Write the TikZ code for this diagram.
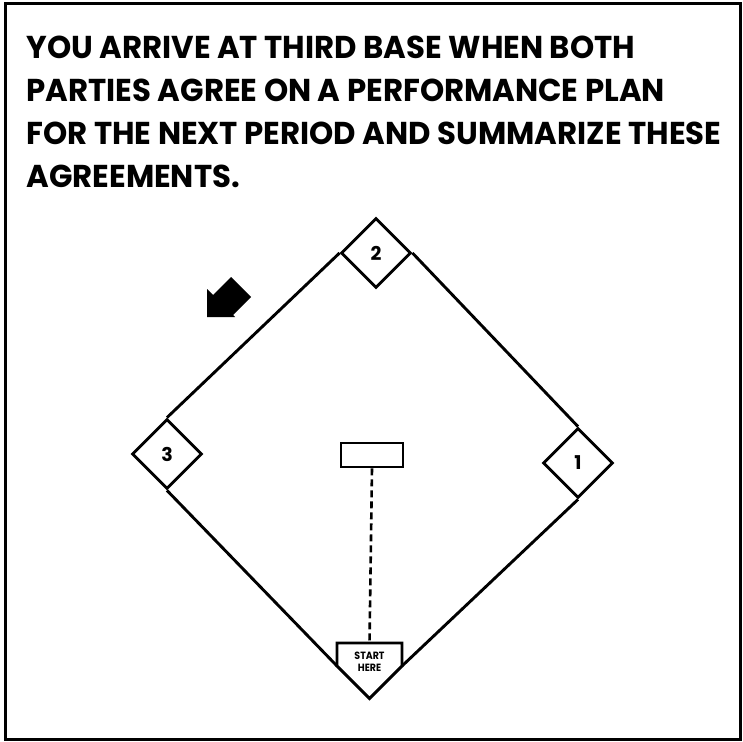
\documentclass[tikz,border=0pt]{standalone}
\usepackage{fontspec}
\setmainfont{Poppins}
\usetikzlibrary{shapes.geometric}

\begin{document}
\begin{tikzpicture}
    [x=1pt, y=-1pt,
    line width=2.9pt,
    headline/.style={inner sep=0pt, align=left, xscale=0.975, font=\fontsize{31.6}{43}\selectfont\bfseries},
    base/.style={draw, diamond, aspect=1, minimum width=70pt, minimum height=70pt, inner sep=0pt, font=\fontsize{19}{19}\selectfont\bfseries},
    rubber/.style={draw, rectangle, minimum width=62pt, minimum height=24pt, inner sep=0pt},
    platetext/.style={inner sep=0pt, align=center, xscale=0.9, font=\fontsize{10.5}{12}\selectfont\bfseries},
    ->-/.style={line width=2.6pt, dash pattern=on 7pt off 4pt}]
        \useasboundingbox (0,0) rectangle (743,741);
        \draw[line width=3pt] (5,4) rectangle (740,739);

        %% Heading
        \node[headline, anchor=north west] (title) at (25,35) {YOU ARRIVE AT THIRD BASE WHEN BOTH\\PARTIES AGREE ON A PERFORMANCE PLAN\\FOR THE NEXT PERIOD AND SUMMARIZE THESE\\AGREEMENTS.};

        %% Bases
        \node[base] (b2) at (376,253) {2};
        \node[base] (b3) at (167,454) {3};
        \node[base] (b1) at (578,463) {1};
        \node[rubber] (mound) at (372,455) {};

        %% Home plate
        \coordinate (hpl) at (337,666);
        \coordinate (hpr) at (402,666);
        \coordinate (hpt) at (369.5,643);
        \draw[line join=miter] (337,643) -- (402,643) -- (hpr) -- (369.5,698.5) -- (hpl) -- cycle;
        \node[platetext] (home) at (369.5,662) {START\\HERE};

        \draw (b2.west) to (b3.north);
        \draw (b3.south) to (hpl);
        \draw (hpr) to (b1.south);
        \draw (b1.north) to (b2.east);
        \draw[->-] (mound.south) to (hpt);

        %% Arrow
        \fill (207,317) -- (207,289) -- (213,295) -- (231,277) -- (251,297) -- (233,315) -- (235,317) -- cycle;
    \end{tikzpicture}
\end{document}
